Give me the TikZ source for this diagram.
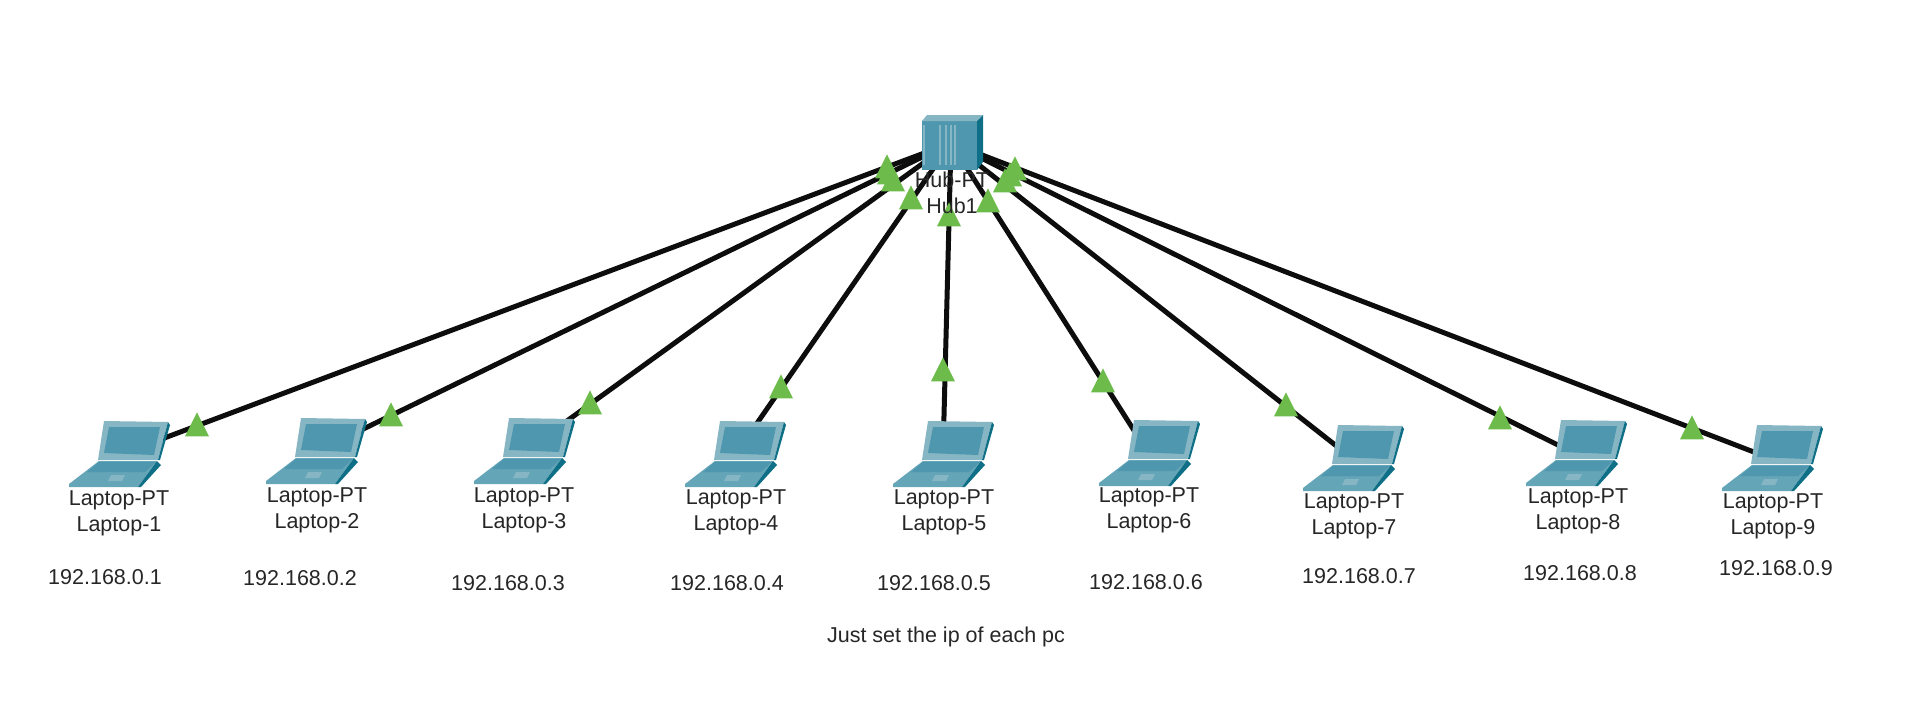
\documentclass[tikz,border=0pt]{standalone}
\usepackage{fontspec}
\setmainfont{Liberation Sans}
\usetikzlibrary{shapes.geometric}

\definecolor{netlight}{HTML}{86B6C4}
\definecolor{netbase}{HTML}{64A5B7}
\definecolor{netmid}{HTML}{4F97AE}
\definecolor{netdark}{HTML}{0F6F87}
\definecolor{linkgreen}{HTML}{6CBB4B}

\tikzset{
    devbox/.style={minimum width=#1, inner sep=0pt, outer sep=0pt},
    cable/.style={line width=5pt, black!95},
    linkup/.style={isosceles triangle, isosceles triangle stretches, shape border rotate=90,
        minimum width=24pt, minimum height=24pt, inner sep=0pt, fill=linkgreen, yshift=-4pt},
    devlabel/.style={align=center, inner sep=0pt, text=black!85, font=\fontsize{21.5}{26}\selectfont},
    pics/laptopicon/.style={code={
        \fill[netlight] (-15,-34) -- (49,-33) -- (39,5) -- (-21,5) -- cycle;
        \fill[netdark] (49,-33) -- (51,-30) -- (41,5) -- (39,5) -- cycle;
        \fill[netmid] (-10,-28) -- (41,-28) -- (35,0) -- (-15,-2) -- cycle;
        \fill[netbase] (-20,6) -- (38,6) -- (19,32) -- (-50,32) -- (-50,29) -- cycle;
        \fill[netmid] (-20,7) -- (37,7) -- (26,17) -- (-32,17) -- cycle;
        \fill[netlight] (-8,20) -- (6,20) -- (3,26) -- (-11,26) -- cycle;
        \fill[netdark] (19,32) -- (38,6) -- (42,10) -- (22,32) -- cycle;
    }},
    pics/hubicon/.style={code={
        \fill[netmid] (-29,-22) rectangle (26,27);
        \fill[netlight] (-29,-22) -- (-24,-28) -- (32,-28) -- (26,-22) -- cycle;
        \fill[netdark] (26,-22) -- (32,-28) -- (32,19) -- (26,27) -- cycle;
        \fill[netlight] (-28,-18) rectangle (-26,22);
        \fill[netlight] (-12,-18) rectangle (-10,22);
        \fill[netlight] (-6,-18) rectangle (-4,22);
        \fill[netlight] (-1,-18) rectangle (1,22);
        \fill[netlight] (3,-18) rectangle (5,22);
    }}
}

\begin{document}
\begin{tikzpicture}[x=1pt,y=-1pt]
    \useasboundingbox (0,0) rectangle (1920,720);

    % 设备节点
    \node[devbox=56pt, minimum height=48pt] (hub) at (951,143) {};
    \foreach \i/\x/\y in {1/119/455, 2/316/452, 3/524/452, 4/735/455, 5/943/455,
                          6/1149/454, 7/1353/459, 8/1576/454, 9/1772/459}
        \node[devbox=100pt, minimum height=68pt] (laptop\i) at (\x,\y) {};

    % 连线
    \foreach \i in {1,...,9}
        \draw[cable] (hub.center) -- (laptop\i.center);

    % 图标
    \pic at (hub) {hubicon};
    \foreach \i in {1,...,9}
        \pic at (laptop\i) {laptopicon};

    % 绿色三角
    \foreach \i/\x/\y in {1/197/425, 2/391/415, 3/590/403, 4/781/387, 5/943/370,
                          6/1103/381, 7/1286/405, 8/1500/418, 9/1692/428}
        \node[linkup] (uplaptop\i) at (\x,\y) {};
    \foreach \i/\x/\y in {1/887/167, 2/889/173, 3/893/180, 4/911/198, 5/949/215,
                          6/988/201, 7/1005/181, 8/1010/175, 9/1015/169}
        \node[linkup] (uphub\i) at (\x,\y) {};

    % 标签
    \node[devlabel] (hublabel) at (952,193) {Hub-PT\\Hub1};
    \foreach \i/\x/\y/\px/\py in {1/119/513/105/577, 2/317/510/300/578, 3/524/510/508/583,
                                  4/736/512/727/583, 5/944/512/934/583, 6/1149/510/1146/582,
                                  7/1354/516/1359/576, 8/1578/511/1580/573, 9/1773/516/1776/568}
    {
        \node[devlabel] (name\i) at (\x,\y) {Laptop-PT\\Laptop-\i};
        \node[devlabel] (ip\i) at (\px,\py) {192.168.0.\i};
    }
    \node[devlabel] (note) at (946,637) {Just set the ip of each pc};
\end{tikzpicture}
\end{document}
